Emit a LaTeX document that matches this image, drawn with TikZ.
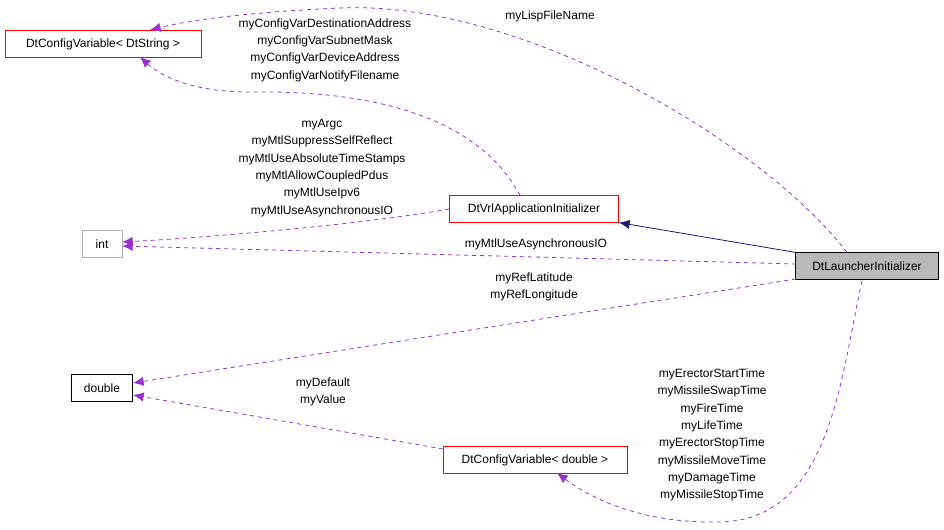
\documentclass[tikz,border=0pt]{standalone}
\usepackage{fontspec}
\setmainfont{Liberation Sans}
\usetikzlibrary{arrows.meta}
\definecolor{dpurple}{RGB}{153,50,204}
\definecolor{navy}{RGB}{25,25,112}
\begin{document}
\begin{tikzpicture}[x=0.75pt,y=-0.75pt,
 box/.style={draw=#1,fill=white,minimum height=20pt,inner sep=3pt,font=\fontsize{9}{11}\selectfont},
 lbl/.style={font=\fontsize{9}{13}\selectfont,align=center},
 dep/.style={draw=dpurple,dashed,semithick,-{Latex[length=8pt,width=7pt,fill=dpurple]}},
 inh/.style={draw=navy,semithick,-{Latex[length=8pt,width=7pt,fill=navy]}}]
\useasboundingbox (0,0) rectangle (944,530);
\node[box=red,minimum width=147pt] (cs) at (103,44) {DtConfigVariable< DtString >};
\node[box=gray!60,minimum width=30pt] (int) at (102,244) {int};
\node[box=black,minimum width=46pt] (dbl) at (102,388) {double};
\node[box=red,minimum width=127pt] (vrl) at (534,209) {DtVrlApplicationInitializer};
\node[box=black,fill=gray!55,minimum width=107pt] (dl) at (867,266) {DtLauncherInitializer};
\node[box=red,minimum width=138pt] (cd) at (535,460) {DtConfigVariable< double >};
\draw[dep] (dl.north) ++(-20,0) .. controls (760,140) and (520,0) .. (340,8) .. controls (250,12) and (190,20) .. (150,30);
\node[lbl] (l1) at (550,16) {myLispFileName};
\draw[dep] (vrl.north) ++(-14,0) .. controls (480,120) and (380,90) .. (250,92) .. controls (190,92) and (160,75) .. (140,57);
\node[lbl] (l2) at (325,50) {myConfigVarDestinationAddress\\myConfigVarSubnetMask\\myConfigVarDeviceAddress\\myConfigVarNotifyFilename};
\draw[dep] (vrl.west) .. controls (360,225) and (200,238) .. (122,242);
\node[lbl] (l3) at (322,168) {myArgc\\myMtlSuppressSelfReflect\\myMtlUseAbsoluteTimeStamps\\myMtlAllowCoupledPdus\\myMtlUseIpv6\\myMtlUseAsynchronousIO};
\draw[inh] (dl.north west) -- (vrl.south east);
\draw[dep] (796,264) -- (122,246);
\node[lbl] (l4) at (536,244) {myMtlUseAsynchronousIO};
\draw[dep] (796,279) -- (133,383);
\node[lbl] (l5) at (534,287) {myRefLatitude\\myRefLongitude};
\draw[dep] (443,449) -- (133,395);
\node[lbl] (l6) at (323,392) {myDefault\\myValue};
\draw[dep] (862,281) .. controls (840,380) and (830,520) .. (720,522) .. controls (630,524) and (580,490) .. (557,473);
\node[lbl] (l7) at (712,435) {myErectorStartTime\\myMissileSwapTime\\myFireTime\\myLifeTime\\myErectorStopTime\\myMissileMoveTime\\myDamageTime\\myMissileStopTime};
\end{tikzpicture}
\end{document}
